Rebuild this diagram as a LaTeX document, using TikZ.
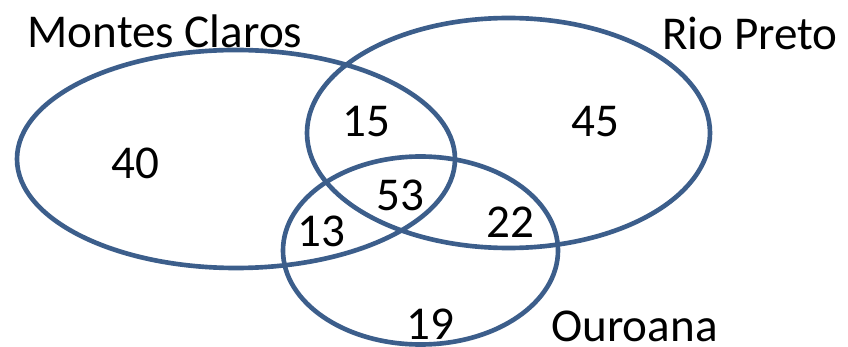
\documentclass[tikz,border=0pt]{standalone}
\usepackage{fontspec}
\setmainfont{Carlito}
\definecolor{vennblue}{RGB}{60,94,139}
\begin{document}
\begin{tikzpicture}[x=0.025cm,y=-0.025cm,
    venn/.style={draw=vennblue,line width=3.3pt},
    lbl/.style={anchor=base,inner sep=0pt,font=\fontsize{33.5}{40}\selectfont}]
                \useasboundingbox (0,0) rectangle (848,347);
                \coordinate (MC) at (236,159);
                \coordinate (RP) at (508.5,133);
                \coordinate (OU) at (420.5,250.5);
                \draw[venn] (MC) ellipse[x radius=219,y radius=109];
                \draw[venn] (RP) ellipse[x radius=201.5,y radius=115];
                \draw[venn] (OU) ellipse[x radius=137.5,y radius=94];
                \node[lbl] (mcname) at (165,48) {Montes Claros};
                \node[lbl] (rpname) at (750,50) {Rio Preto};
                \node[lbl] (ouname) at (634.5,341) {Ouroana};
                \node[lbl] (n40) at (135,179) {40};
                \node[lbl] (n15) at (366.5,137) {15};
                \node[lbl] (n45) at (595.5,137) {45};
                \node[lbl] (n53) at (400,210) {53};
                \node[lbl] (n13) at (321.5,246) {13};
                \node[lbl] (n22) at (510,237) {22};
                \node[lbl] (n19) at (430,339) {19};
            \end{tikzpicture}
\end{document}
